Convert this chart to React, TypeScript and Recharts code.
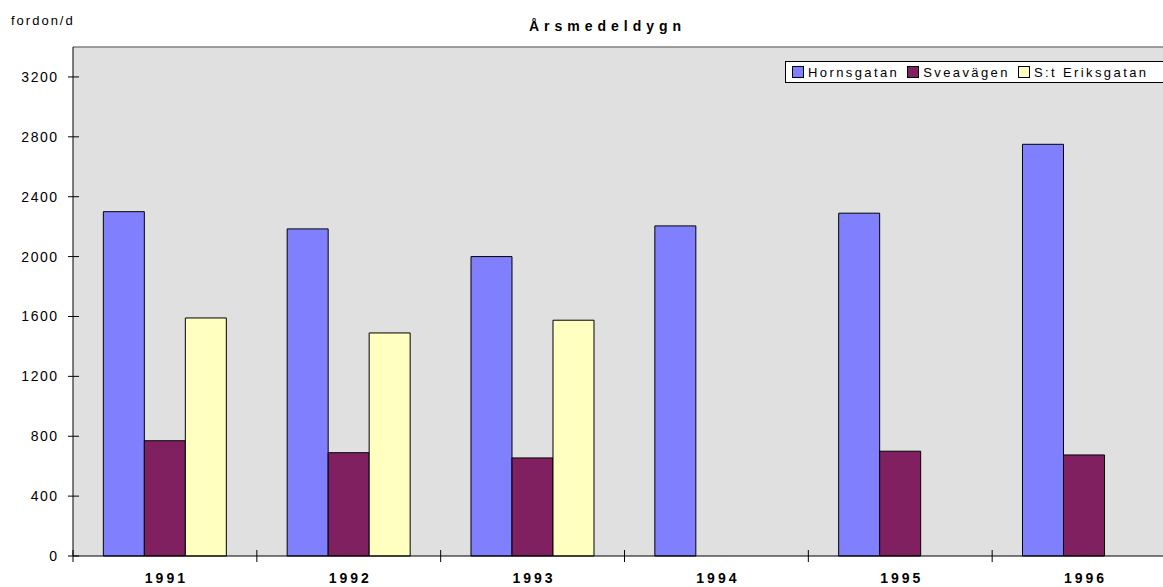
import {
  BarChart,
  Bar,
  XAxis,
  YAxis,
  CartesianGrid,
  Legend,
} from "recharts";

const years = ["1991", "1992", "1993", "1994", "1995", "1996"];
const hornsgatan = [2300, 2185, 2000, 2205, 2290, 2750];
const sveavagen = [770, 690, 655, null, 700, 675];
const stEriksgatan = [1590, 1490, 1575, null, null, null];
const yTicks = [0, 400, 800, 1200, 1600, 2000, 2400, 2800, 3200];

const series = [
  { key: "Hornsgatan", color: "#8080ff" },
  { key: "Sveavägen", color: "#802060" },
  { key: "S:t Eriksgatan", color: "#ffffc0" },
];

const chartData = years.map((year, i) => ({
  year,
  Hornsgatan: hornsgatan[i],
  Sveavägen: sveavagen[i],
  "S:t Eriksgatan": stEriksgatan[i],
}));

const font = "'Liberation Sans', Arial, sans-serif";

function YTick(props: any) {
  const { x, y, payload } = props;
  return (
    <g>
      <line x1={x - 5} x2={x + 6} y1={y} y2={y} stroke="#000" />
      <text
        x={x - 14.5}
        y={y + 5}
        textAnchor="end"
        fontSize={14}
        fontFamily={font}
        letterSpacing={1.5}
        fill="#000"
      >
        {payload.value}
      </text>
    </g>
  );
}

function XTick(props: any) {
  const { x, y, payload, width, visibleTicksCount } = props;
  const half = payload.offset || width / visibleTicksCount / 2;
  return (
    <g>
      <line x1={x - half} x2={x - half} y1={y - 6} y2={y + 6} stroke="#000" />
      <text
        x={x + 1.5}
        y={y + 27}
        textAnchor="middle"
        fontSize={14}
        fontWeight="bold"
        fontFamily={font}
        letterSpacing={3}
        fill="#000"
      >
        {payload.value}
      </text>
    </g>
  );
}

function LegendBox() {
  return (
    <div
      style={{
        display: "flex",
        alignItems: "center",
        background: "#fff",
        border: "1px solid #000",
        height: 20,
        paddingLeft: 6,
        paddingRight: 30,
        fontFamily: font,
        fontSize: 13,
        letterSpacing: 2.4,
        whiteSpace: "nowrap",
      }}
    >
      {series.map((s) => (
        <span
          key={s.key}
          style={{ display: "flex", alignItems: "center", marginRight: 8 }}
        >
          <span
            style={{
              display: "inline-block",
              width: 10,
              height: 10,
              background: s.color,
              border: "1.5px solid #000",
              marginRight: 4,
            }}
          />
          {s.key}
        </span>
      ))}
    </div>
  );
}

export default function App() {
  return (
    <div
      style={{
        position: "fixed",
        left: 0,
        top: 0,
        width: 1163,
        height: 587,
        overflow: "hidden",
        background: "#fff",
      }}
    >
      <div
        style={{
          position: "absolute",
          left: 11,
          top: 14,
          fontFamily: font,
          fontSize: 13,
          lineHeight: "13px",
          letterSpacing: 2,
        }}
      >
        fordon/d
      </div>
      <div
        style={{
          position: "absolute",
          left: 607.5,
          top: 19,
          transform: "translateX(-50%)",
          fontFamily: font,
          fontSize: 14,
          lineHeight: "14px",
          fontWeight: "bold",
          letterSpacing: 5,
          whiteSpace: "nowrap",
        }}
      >
        Årsmedeldygn
      </div>
      <BarChart
        width={1176}
        height={587}
        data={chartData}
        margin={{ top: 46, right: 0, bottom: 0, left: 0 }}
        barCategoryGap="16.5%"
        barGap={0}
      >
        <CartesianGrid fill="#e0e0e0" horizontal={false} vertical={false} />
        <XAxis
          dataKey="year"
          height={31}
          axisLine={{ stroke: "#000" }}
          tickLine={false}
          tickSize={0}
          tickMargin={0}
          tick={<XTick />}
          interval={0}
        />
        <XAxis
          xAxisId="top"
          orientation="top"
          dataKey="year"
          height={1}
          axisLine={{ stroke: "#808080", strokeWidth: 1.5 }}
          tickLine={false}
          tick={false}
        />
        <YAxis
          width={73}
          domain={[0, 3400]}
          ticks={yTicks}
          axisLine={{ stroke: "#000" }}
          tickLine={false}
          tickSize={0}
          tickMargin={0}
          tick={<YTick />}
          interval={0}
        />
        <Legend
          layout="horizontal"
          verticalAlign="middle"
          align="center"
          content={<LegendBox />}
          wrapperStyle={{ top: 61, left: 785, width: "auto", height: "auto" }}
        />
        {series.map((s) => (
          <Bar
            key={s.key}
            dataKey={s.key}
            fill={s.color}
            stroke="#000"
            strokeWidth={1}
            isAnimationActive={false}
          />
        ))}
      </BarChart>
    </div>
  );
}
